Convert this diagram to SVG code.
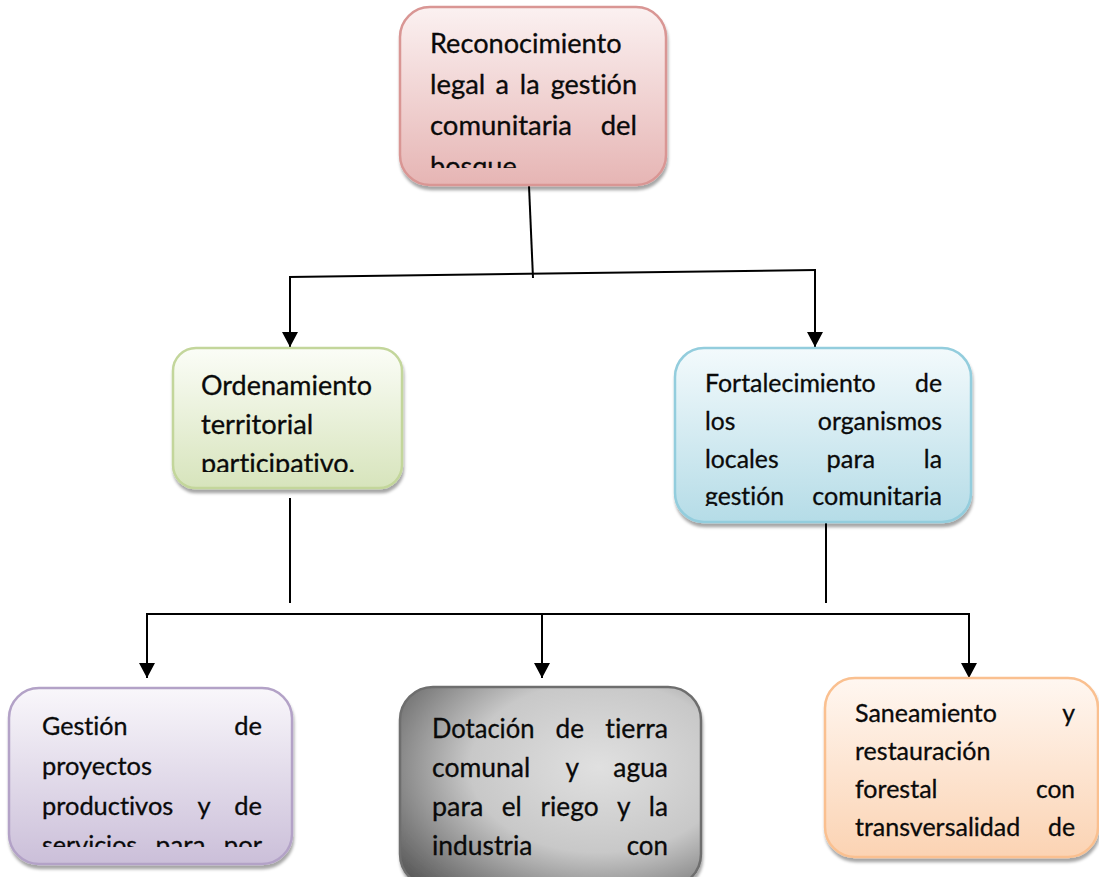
<svg xmlns="http://www.w3.org/2000/svg" width="1099" height="877" viewBox="0 0 1099 877">
<style>
  text { font-family: Lato, "Open Sans", "Liberation Sans", sans-serif; fill: #0a0a0a; stroke: #0a0a0a; stroke-width: 0.3; font-variant-ligatures: none; font-feature-settings: "liga" 0, "clig" 0; }
  .fTop { font-size: 27px; }
  .fGreen { font-size: 26.8px; }
  .fBlue { font-size: 24.8px; }
  .fPurple { font-size: 25.5px; }
  .fGray { font-size: 26.2px; }
  .fOrange { font-size: 24.8px; }
  .end { text-anchor: end; }
  .conn { stroke: #000; stroke-width: 2; fill: none; }
  .box { stroke-width: 2.5; filter: url(#shadow); }
</style>
<defs>
  <filter id="shadow" x="-10%" y="-10%" width="120%" height="125%">
    <feDropShadow dx="1" dy="4" stdDeviation="1.5" flood-color="#000" flood-opacity="0.35"/>
  </filter>
  <marker id="arrow" markerUnits="userSpaceOnUse" markerWidth="18" markerHeight="18" refX="15" refY="8" orient="auto">
    <path d="M0,0 L15,8 L0,16 Z" fill="#000"/>
  </marker>
  <linearGradient id="gPink" x1="0" y1="0" x2="0" y2="1">
    <stop offset="0" stop-color="#fbf1f1"/>
    <stop offset="1" stop-color="#e6b5b4"/>
  </linearGradient>
  <linearGradient id="gGreen" x1="0" y1="0" x2="0" y2="1">
    <stop offset="0" stop-color="#fbfdf7"/>
    <stop offset="1" stop-color="#d7e4bc"/>
  </linearGradient>
  <linearGradient id="gBlue" x1="0" y1="0" x2="0" y2="1">
    <stop offset="0" stop-color="#f3fafc"/>
    <stop offset="1" stop-color="#b5dce7"/>
  </linearGradient>
  <linearGradient id="gPurple" x1="0" y1="0" x2="0" y2="1">
    <stop offset="0" stop-color="#f9f7fb"/>
    <stop offset="1" stop-color="#cbbfd9"/>
  </linearGradient>
  <linearGradient id="gOrange" x1="0" y1="0" x2="0" y2="1">
    <stop offset="0" stop-color="#fff7f1"/>
    <stop offset="1" stop-color="#fbd3b3"/>
  </linearGradient>
  <radialGradient id="gGray" cx="0.66" cy="0.4" r="0.95">
    <stop offset="0" stop-color="#e0e0e0"/>
    <stop offset="0.45" stop-color="#c8c8c8"/>
    <stop offset="1" stop-color="#3a3a3a"/>
  </radialGradient>
  <clipPath id="cTop"><rect x="400" y="0" width="270" height="168"/></clipPath>
  <clipPath id="cGreen"><rect x="170" y="340" width="235" height="132"/></clipPath>
  <clipPath id="cBlue"><rect x="670" y="340" width="305" height="166"/></clipPath>
  <clipPath id="cPurple"><rect x="5" y="680" width="290" height="167"/></clipPath>
</defs>
<rect width="1099" height="877" fill="#fff"/>

<g id="connectors">
  <line class="conn" x1="529" y1="186" x2="533" y2="278"/>
  <line class="conn" x1="289" y1="277" x2="816" y2="270"/>
  <line class="conn" x1="290" y1="277" x2="290" y2="347" marker-end="url(#arrow)"/>
  <line class="conn" x1="815" y1="270" x2="815" y2="347" marker-end="url(#arrow)"/>
  <line class="conn" x1="290" y1="498" x2="290" y2="603"/>
  <line class="conn" x1="826" y1="523" x2="826" y2="603"/>
  <line class="conn" x1="146" y1="614" x2="970" y2="614"/>
  <line class="conn" x1="147" y1="614" x2="147" y2="678" marker-end="url(#arrow)"/>
  <line class="conn" x1="542" y1="614" x2="542" y2="678" marker-end="url(#arrow)"/>
  <line class="conn" x1="969" y1="614" x2="969" y2="678" marker-end="url(#arrow)"/>
</g>

<g id="node-reconocimiento">
  <rect class="box" x="400" y="7" width="266" height="178" rx="30" fill="url(#gPink)" stroke="#d99694"/>
  <g class="fTop" clip-path="url(#cTop)">
    <text x="430" y="53" textLength="191.6" lengthAdjust="spacingAndGlyphs">Reconocimiento</text>
    <text x="430" y="94" textLength="55.3" lengthAdjust="spacingAndGlyphs">legal</text>
    <text x="495.6" y="94">a</text>
    <text x="519.8" y="94">la</text>
    <text x="550.7" y="94" textLength="86.3" lengthAdjust="spacingAndGlyphs">gestión</text>
    <text x="430" y="135" textLength="142" lengthAdjust="spacingAndGlyphs">comunitaria</text>
    <text x="600.7" y="135" textLength="36.3" lengthAdjust="spacingAndGlyphs">del</text>
    <text x="430" y="176" textLength="86.7" lengthAdjust="spacingAndGlyphs">bosque</text>
  </g>
</g>

<g id="node-ordenamiento">
  <rect class="box" x="173" y="348" width="229" height="140" rx="23" fill="url(#gGreen)" stroke="#c3d69b"/>
  <g class="fGreen" clip-path="url(#cGreen)">
    <text x="201" y="395" textLength="171" lengthAdjust="spacingAndGlyphs">Ordenamiento</text>
    <text x="201" y="434" textLength="112.2" lengthAdjust="spacingAndGlyphs">territorial</text>
    <text x="201" y="473" textLength="154" lengthAdjust="spacingAndGlyphs">participativo.</text>
  </g>
</g>

<g id="node-fortalecimiento">
  <rect class="box" x="675" y="348" width="296" height="174" rx="29" fill="url(#gBlue)" stroke="#93cddd"/>
  <g class="fBlue" clip-path="url(#cBlue)">
    <text x="705" y="392" textLength="170.7" lengthAdjust="spacingAndGlyphs">Fortalecimiento</text>
    <text x="942" y="392" class="end">de</text>
    <text x="705" y="430" textLength="30.4" lengthAdjust="spacingAndGlyphs">los</text>
    <text x="817.8" y="430" textLength="124.2" lengthAdjust="spacingAndGlyphs">organismos</text>
    <text x="705" y="468" textLength="73.6" lengthAdjust="spacingAndGlyphs">locales</text>
    <text x="826.6" y="468" textLength="48.5" lengthAdjust="spacingAndGlyphs">para</text>
    <text x="942" y="468" class="end">la</text>
    <text x="705" y="505" textLength="78.9" lengthAdjust="spacingAndGlyphs">gestión</text>
    <text x="812.2" y="505" textLength="129.8" lengthAdjust="spacingAndGlyphs">comunitaria</text>
  </g>
</g>

<g id="node-gestion">
  <rect class="box" x="9" y="688" width="283" height="176" rx="30" fill="url(#gPurple)" stroke="#b3a2c7"/>
  <g class="fPurple" clip-path="url(#cPurple)">
    <text x="42" y="735" textLength="85.6" lengthAdjust="spacingAndGlyphs">Gestión</text>
    <text x="262" y="735" class="end">de</text>
    <text x="42" y="775" textLength="110" lengthAdjust="spacingAndGlyphs">proyectos</text>
    <text x="42" y="815" textLength="131.3" lengthAdjust="spacingAndGlyphs">productivos</text>
    <text x="197.5" y="815">y</text>
    <text x="262" y="815" class="end">de</text>
    <text x="42" y="853.5" textLength="95.2" lengthAdjust="spacingAndGlyphs">servicios</text>
    <text x="155.5" y="853.5" textLength="50" lengthAdjust="spacingAndGlyphs">para</text>
    <text x="223.8" y="853.5" textLength="38.2" lengthAdjust="spacingAndGlyphs">por</text>
  </g>
</g>

<g id="node-dotacion">
  <rect class="box" x="400" y="687" width="301" height="200" rx="33" fill="url(#gGray)" stroke="#6e6e6e"/>
  <g class="fGray">
    <text x="432" y="738" textLength="102.5" lengthAdjust="spacingAndGlyphs">Dotación</text>
    <text x="555.6" y="738">de</text>
    <text x="605.3" y="738" textLength="62.7" lengthAdjust="spacingAndGlyphs">tierra</text>
    <text x="432" y="777" textLength="98.2" lengthAdjust="spacingAndGlyphs">comunal</text>
    <text x="565.4" y="777">y</text>
    <text x="613.3" y="777" textLength="54.7" lengthAdjust="spacingAndGlyphs">agua</text>
    <text x="432" y="816" textLength="51.3" lengthAdjust="spacingAndGlyphs">para</text>
    <text x="501.7" y="816">el</text>
    <text x="540.5" y="816" textLength="58.1" lengthAdjust="spacingAndGlyphs">riego</text>
    <text x="617" y="816">y</text>
    <text x="668" y="816" class="end">la</text>
    <text x="432" y="855" textLength="100.4" lengthAdjust="spacingAndGlyphs">industria</text>
    <text x="626.7" y="855" textLength="41.3" lengthAdjust="spacingAndGlyphs">con</text>
  </g>
</g>

<g id="node-saneamiento">
  <rect class="box" x="825" y="678" width="273" height="179" rx="30" fill="url(#gOrange)" stroke="#fac090"/>
  <g class="fOrange">
    <text x="855" y="722" textLength="141.9" lengthAdjust="spacingAndGlyphs">Saneamiento</text>
    <text x="1075" y="722" class="end">y</text>
    <text x="855" y="760" textLength="135.4" lengthAdjust="spacingAndGlyphs">restauración</text>
    <text x="855" y="798" textLength="82.5" lengthAdjust="spacingAndGlyphs">forestal</text>
    <text x="1035.9" y="798" textLength="39.1" lengthAdjust="spacingAndGlyphs">con</text>
    <text x="855" y="836" textLength="165.2" lengthAdjust="spacingAndGlyphs">transversalidad</text>
    <text x="1075" y="836" class="end">de</text>
  </g>
</g>
</svg>
